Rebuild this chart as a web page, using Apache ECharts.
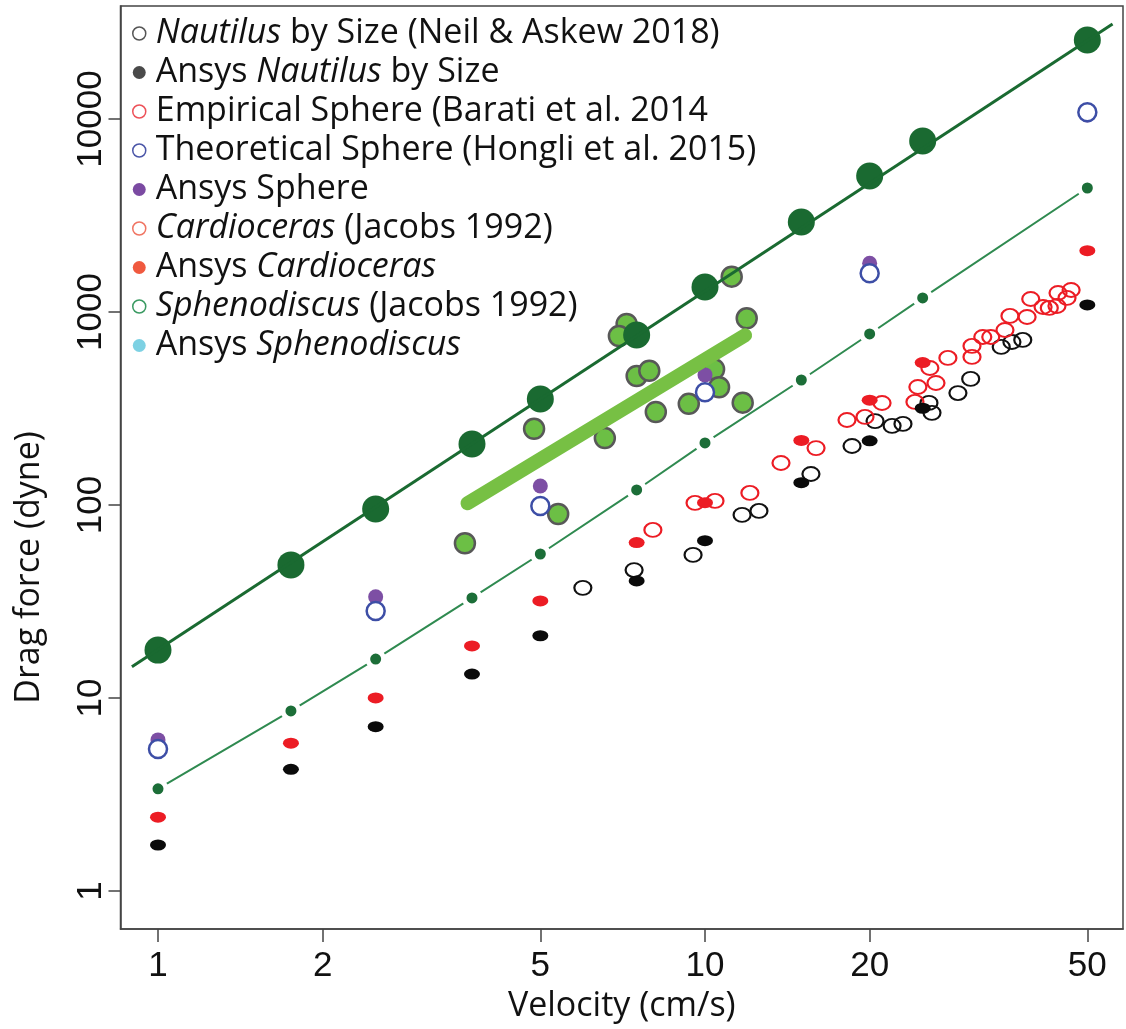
<!DOCTYPE html>
<html>
<head>
<meta charset="utf-8">
<script src="https://cdn.jsdelivr.net/npm/echarts@6/dist/echarts.min.js"></script>
<style>
  html, body { margin: 0; padding: 0; background: #fff; }
  #chart { width: 1126px; height: 1029px; }
</style>
</head>
<body>
<div id="chart"></div>
<script>
// velocities (cm/s) used for the Ansys runs
const ansysVel = [1, 1.75, 2.5, 3.75, 5, 7.5, 10, 15, 20, 25, 50];
const sphereVel = [1, 2.5, 5, 10, 20, 50];

// drag force (dyne)
const bigGreen = [17.7, 48.9, 95.3, 207, 354, 760, 1348, 2926, 5066, 7690, 25650];
const smallGreen = [3.38, 8.57, 15.9, 33.0, 55.7, 119.6, 209.6, 444, 769, 1182, 4388];
const ansysCardioceras = [2.41, 5.83, 10.0, 18.6, 31.8, 63.8, 102.8, 216, 349, 547, 2078];
const ansysNautilus = [1.73, 4.27, 7.10, 13.3, 21.0, 40.4, 65.3, 130.5, 215, 317, 1087];
const ansysSphere = [6.06, 33.4, 125.4, 472, 1787, 10490];
const theorSphere = [5.44, 28.2, 98.8, 383.6, 1587, 10830];

// Nautilus by size (Neil & Askew 2018)
const nautVel = [5.98, 7.42, 9.51, 11.69, 12.55, 15.62, 18.57, 20.46, 21.98, 23.01, 25.67, 26.0, 29.0, 30.6, 34.8, 36.4, 38.1];
const nautForce = [37.2, 46.0, 55.1, 88.8, 93.1, 144.7, 202, 272, 257, 263, 338, 300, 380, 450, 659, 699, 716];

// Cardioceras (Jacobs 1992)
const cardVel = [8.03, 9.59, 10.43, 12.08, 13.77, 15.96, 18.18, 19.61, 21.07, 24.2, 24.5, 25.77, 26.44, 27.8,
  30.77, 30.77, 32.2, 33.3, 35.35, 36.1, 38.8, 39.4, 41.5, 42.6, 44.0, 44.2, 45.9, 46.7];
const cardForce = [74.2, 102.4, 104.9, 115.4, 165, 197, 275.5, 285.7, 337.6, 341.8, 408.5, 512.6, 428.6, 577.7,
  584.6, 666.5, 741.6, 741.6, 806.6, 953.5, 942, 1167, 1061, 1049, 1074, 1254, 1182, 1300];

// Sphenodiscus (Jacobs 1992)
const sphenVel = [11.19, 11.92, 7.19, 6.96, 7.50, 7.91, 10.39, 10.61, 11.72, 9.34, 8.13, 4.87, 6.56, 5.39, 3.64];
const sphenForce = [1524, 927, 867, 751, 466, 496, 505, 407, 339, 334, 303, 248, 222, 89.8, 63.3];

// straight lines (end points)
const fitLine = [[0.896, 14.5], [55.6, 31050]];
const trendLine = [[3.68, 102], [11.84, 757]];

const xTicks = [1, 2, 5, 10, 20, 50];
const yTicks = [1, 10, 100, 1000, 10000];

const legendNames = [
  'Nautilus by Size (Neil & Askew 2018)',
  'Ansys Nautilus by Size',
  'Empirical Sphere (Barati et al. 2014',
  'Theoretical Sphere (Hongli et al. 2015)',
  'Ansys Sphere',
  'Cardioceras (Jacobs 1992)',
  'Ansys Cardioceras',
  'Sphenodiscus (Jacobs 1992)',
  'Ansys Sphenodiscus'
];
const legendText = {
  'Nautilus by Size (Neil & Askew 2018)': '{i|Nautilus} by Size (Neil & Askew 2018)',
  'Ansys Nautilus by Size': 'Ansys {i|Nautilus} by Size',
  'Empirical Sphere (Barati et al. 2014': 'Empirical Sphere (Barati et al. 2014',
  'Theoretical Sphere (Hongli et al. 2015)': 'Theoretical Sphere (Hongli et al. 2015)',
  'Ansys Sphere': 'Ansys Sphere',
  'Cardioceras (Jacobs 1992)': '{i|Cardioceras} (Jacobs 1992)',
  'Ansys Cardioceras': 'Ansys {i|Cardioceras}',
  'Sphenodiscus (Jacobs 1992)': '{i|Sphenodiscus} (Jacobs 1992)',
  'Ansys Sphenodiscus': 'Ansys {i|Sphenodiscus}'
};

const pair = (xs, ys) => xs.map((x, i) => [x, ys[i]]);
const ellipse = 'path://M0,5A8,5,0,1,1,16,5A8,5,0,1,1,0,5Z';
const fmt = v => String(+Number(v).toPrecision(6));

const chart = echarts.init(document.getElementById('chart'), null, { renderer: 'canvas' });

const option = {
  animation: false,
  backgroundColor: '#fff',
  grid: {
    left: 120.5, right: 3, top: 6, bottom: 100,
    show: true, borderColor: '#444', borderWidth: 1.5, backgroundColor: 'transparent',
    outerBoundsMode: 'none'
  },
  legend: {
    orient: 'vertical',
    left: 127, top: 9,
    itemWidth: 13, itemHeight: 13, itemGap: 0,
    selectedMode: false,
    formatter: n => legendText[n],
    textStyle: {
      fontFamily: 'Open Sans', fontSize: 34, lineHeight: 39, color: '#111',
      padding: [0, 0, 0, 5],
      rich: { i: { fontFamily: 'Open Sans', fontStyle: 'italic', fontSize: 34, lineHeight: 39, color: '#111' } }
    },
    data: [
      { name: legendNames[0], icon: 'circle', itemStyle: { color: '#fff', borderColor: '#555', borderWidth: 1.5 } },
      { name: legendNames[1], icon: 'circle', itemStyle: { color: '#4a4a4a', borderWidth: 0 } },
      { name: legendNames[2], icon: 'circle', itemStyle: { color: '#fff', borderColor: '#e8262e', borderWidth: 1.5 } },
      { name: legendNames[3], icon: 'circle', itemStyle: { color: '#fff', borderColor: '#4b56a8', borderWidth: 1.5 } },
      { name: legendNames[4], icon: 'circle', itemStyle: { color: '#7b4aa2', borderWidth: 0 } },
      { name: legendNames[5], icon: 'circle', itemStyle: { color: '#fff', borderColor: '#f07563', borderWidth: 1.5 } },
      { name: legendNames[6], icon: 'circle', itemStyle: { color: '#f0593f', borderWidth: 0 } },
      { name: legendNames[7], icon: 'circle', itemStyle: { color: '#fff', borderColor: '#3a9a62', borderWidth: 1.5 } },
      { name: legendNames[8], icon: 'circle', itemStyle: { color: '#5cc6dc', borderWidth: 0 } }
    ]
  },
  xAxis: {
    type: 'log', logBase: 10, min: 0.854, max: 58.1,
    name: 'Velocity (cm/s)', nameLocation: 'middle', nameGap: 56,
    nameTextStyle: { fontFamily: 'Open Sans', fontSize: 34, color: '#111' },
    axisLine: { show: true, lineStyle: { color: '#444', width: 1.5 } },
    axisTick: { show: true, length: 13, customValues: xTicks, lineStyle: { color: '#444', width: 1.5 } },
    minorTick: { show: false },
    axisLabel: { customValues: xTicks, formatter: fmt, margin: 20, fontFamily: 'Liberation Sans', fontSize: 35, color: '#111' },
    splitLine: { show: false }
  },
  yAxis: {
    type: 'log', logBase: 10, min: 0.635, max: 38490,
    name: 'Drag force (dyne)', nameLocation: 'middle', nameGap: 74,
    nameTextStyle: { fontFamily: 'Open Sans', fontSize: 34, color: '#111', padding: [0, 200, 0, 0] },
    axisLine: { show: true, lineStyle: { color: '#444', width: 1.5 } },
    axisTick: { show: true, length: 12, customValues: yTicks, lineStyle: { color: '#444', width: 1.5 } },
    minorTick: { show: false },
    axisLabel: { customValues: yTicks, formatter: fmt, rotate: 90, margin: 12, fontFamily: 'Liberation Sans', fontSize: 35, color: '#111' },
    splitLine: { show: false }
  },
  series: [
    {
      name: 'trend', type: 'line', data: trendLine, symbol: 'none', silent: true,
      lineStyle: { color: '#77c044', width: 14, cap: 'round' }
    },
    {
      name: legendNames[7], type: 'scatter', data: pair(sphenVel, sphenForce),
      symbol: 'circle', symbolSize: 20,
      itemStyle: { color: '#6cbf45', borderColor: '#585858', borderWidth: 2.5, opacity: 1 }
    },
    {
      name: legendNames[0], type: 'scatter', data: pair(nautVel, nautForce),
      symbol: ellipse, symbolSize: [17, 14],
      itemStyle: { color: 'rgba(255,255,255,0)', borderColor: '#111', borderWidth: 2, opacity: 1 }
    },
    {
      name: legendNames[5], type: 'scatter', data: pair(cardVel, cardForce),
      symbol: ellipse, symbolSize: [17, 14],
      itemStyle: { color: 'rgba(255,255,255,0)', borderColor: '#ec1c24', borderWidth: 2, opacity: 1 }
    },
    {
      name: legendNames[6], type: 'scatter', data: pair(ansysVel, ansysCardioceras),
      symbol: ellipse, symbolSize: [16, 11],
      itemStyle: { color: '#ec1c24', opacity: 1 }
    },
    {
      name: legendNames[1], type: 'scatter', data: pair(ansysVel, ansysNautilus),
      symbol: ellipse, symbolSize: [16, 11],
      itemStyle: { color: '#0a0a0a', opacity: 1 }
    },
    {
      name: legendNames[4], type: 'scatter', data: pair(sphereVel, ansysSphere),
      symbol: 'circle', symbolSize: 15,
      itemStyle: { color: '#7d4fa4', opacity: 1 }
    },
    {
      name: legendNames[3], type: 'scatter', data: pair(sphereVel, theorSphere),
      symbol: 'circle', symbolSize: 18,
      itemStyle: { color: '#fff', borderColor: '#3d4ea6', borderWidth: 2.5, opacity: 1 }
    },
    {
      name: 'ansys-line', type: 'line', data: pair(ansysVel, smallGreen),
      symbol: 'circle', symbolSize: 16, showAllSymbol: true,
      itemStyle: { color: '#1c6e38', borderColor: '#fff', borderWidth: 5 },
      lineStyle: { color: '#2f8a50', width: 2 }
    },
    {
      name: 'fit', type: 'line', data: fitLine, symbol: 'none', silent: true,
      lineStyle: { color: '#1a6a31', width: 3 }
    },
    {
      name: 'ansys-big', type: 'scatter', data: pair(ansysVel, bigGreen),
      symbol: 'circle', symbolSize: 27,
      itemStyle: { color: '#1a6a31', opacity: 1 }
    },
    { name: legendNames[2], type: 'scatter', data: [] },
    { name: legendNames[8], type: 'scatter', data: [] }
  ]
};

chart.setOption(option);
</script>
</body>
</html>
